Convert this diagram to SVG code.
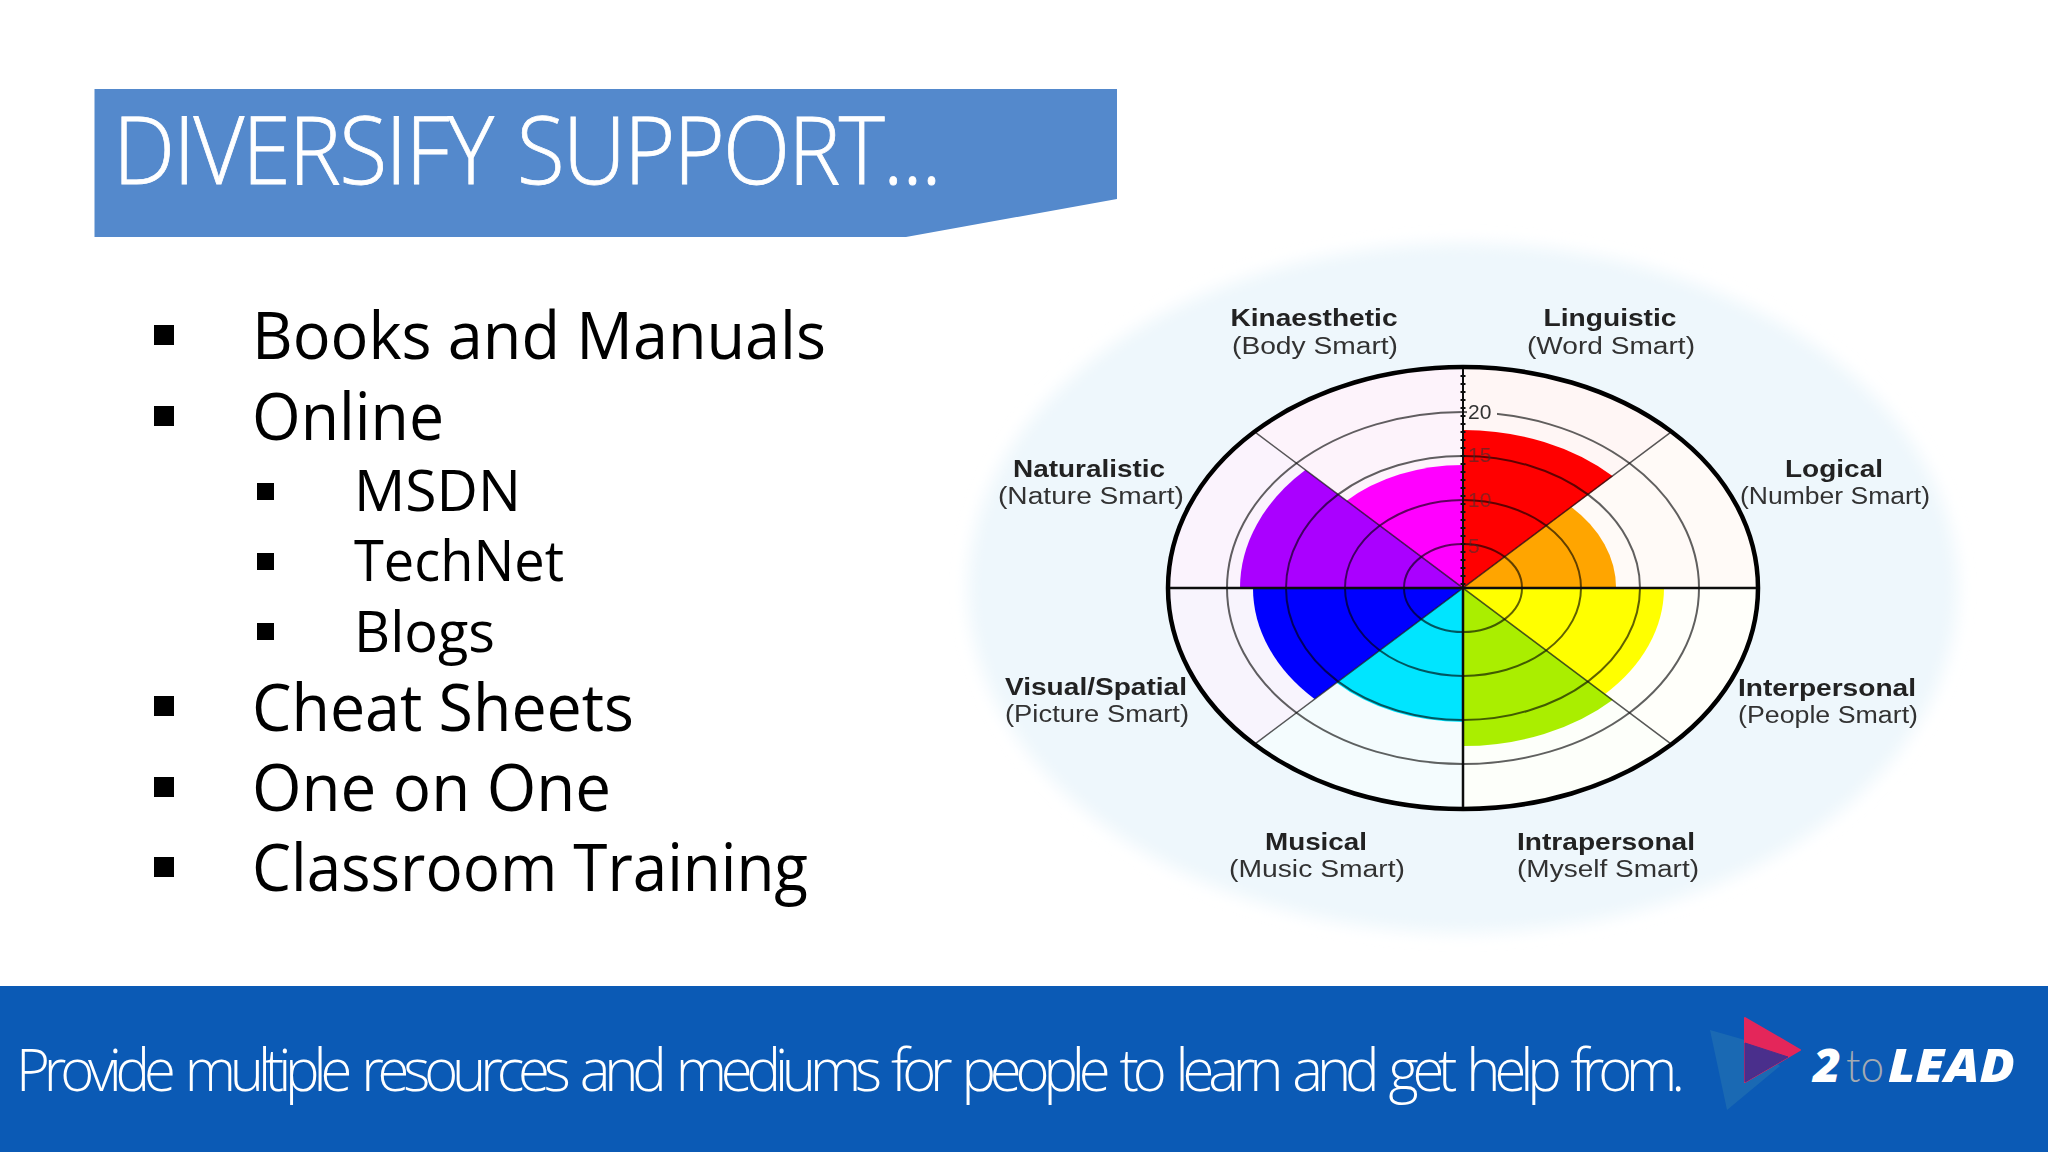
<svg xmlns="http://www.w3.org/2000/svg" width="2048" height="1152" viewBox="0 0 2048 1152">
<defs>
<style>
.l1{font-family:"Open Sans","Noto Sans",sans-serif;font-size:65px;fill:#000}
.l2{font-family:"Open Sans","Noto Sans",sans-serif;font-size:57px;fill:#000}
.b{font-family:"Liberation Sans",Arial,sans-serif;font-size:23px;font-weight:700;fill:#222;text-anchor:middle}
.r{font-family:"Liberation Sans",Arial,sans-serif;font-size:23px;fill:#333;text-anchor:middle}
.t{font-family:"Liberation Sans",Arial,sans-serif;font-size:21px;fill:#333}
.ring{fill:none;stroke:#000;stroke-width:2;stroke-opacity:.62}
</style>
<filter id="soft" x="-5%" y="-5%" width="110%" height="110%"><feGaussianBlur stdDeviation="0.6"/></filter>
<filter id="halo" x="-10%" y="-10%" width="120%" height="120%"><feGaussianBlur stdDeviation="8"/></filter>
</defs>
<rect width="2048" height="1152" fill="#ffffff"/>

<g id="title">
<polygon points="94.500,89 1117,89 1117,199 906,237 94.500,237" fill="#5489cc"/>
<text x="113" y="184" font-family="'Open Sans','Noto Sans',sans-serif" font-weight="300" font-size="94" fill="#fff" stroke="#fff" stroke-width="0.8" letter-spacing="-2" word-spacing="4" textLength="827" lengthAdjust="spacingAndGlyphs">DIVERSIFY SUPPORT...</text>
</g>

<g id="list">
<rect x="154" y="325" width="20" height="20"/>
<rect x="154" y="406" width="20" height="20"/>
<rect x="257" y="483" width="17" height="17"/>
<rect x="257" y="553" width="17" height="17"/>
<rect x="257" y="623" width="17" height="17"/>
<rect x="154" y="696" width="20" height="20"/>
<rect x="154" y="777" width="20" height="20"/>
<rect x="154" y="857" width="20" height="20"/>
<text class="l1" x="252" y="359" textLength="574" lengthAdjust="spacingAndGlyphs">Books and Manuals</text>
<text class="l1" x="252" y="440" textLength="192" lengthAdjust="spacingAndGlyphs">Online</text>
<text class="l2" x="354" y="511" textLength="167" lengthAdjust="spacingAndGlyphs">MSDN</text>
<text class="l2" x="354" y="581" textLength="210" lengthAdjust="spacingAndGlyphs">TechNet</text>
<text class="l2" x="354" y="652" textLength="141" lengthAdjust="spacingAndGlyphs">Blogs</text>
<text class="l1" x="252" y="731" textLength="382" lengthAdjust="spacingAndGlyphs">Cheat Sheets</text>
<text class="l1" x="252" y="811" textLength="359" lengthAdjust="spacingAndGlyphs">One on One</text>
<text class="l1" x="252" y="891" textLength="556" lengthAdjust="spacingAndGlyphs">Classroom Training</text>
</g>

<g id="wheel">
<ellipse cx="1463" cy="588" rx="495" ry="345" fill="#eef7fc" filter="url(#halo)"/>
<g filter="url(#soft)">
<g id="pale-sectors">
<path d="M1463 588V367A295 221 0 0 1 1671.600 431.700Z" fill="#fff6f5"/>
<path d="M1463 588L1671.600 431.700A295 221 0 0 1 1758 588Z" fill="#fffaf7"/>
<path d="M1463 588H1758A295 221 0 0 1 1671.600 744.300Z" fill="#fffffa"/>
<path d="M1463 588L1671.600 744.300A295 221 0 0 1 1463 809Z" fill="#fdfffa"/>
<path d="M1463 588V809A295 221 0 0 1 1254.400 744.300Z" fill="#f4fcfe"/>
<path d="M1463 588L1254.400 744.300A295 221 0 0 1 1168 588Z" fill="#f8f4fd"/>
<path d="M1463 588H1168A295 221 0 0 1 1254.400 431.700Z" fill="#fbf3fd"/>
<path d="M1463 588L1254.400 431.700A295 221 0 0 1 1463 367Z" fill="#fdf3fb"/>
</g>
<g id="sectors">
<path d="M1463 588V465A165 123 0 0 0 1346.300 501Z" fill="#ff00ff"/>
<path d="M1463 588H1240A223 167 0 0 1 1305.300 470Z" fill="#aa00ff"/>
<path d="M1463 588L1571.200 507A153 114 0 0 1 1616 588Z" fill="#ffa500"/>
<path d="M1463 588V430A212 158 0 0 1 1612.900 476.300Z" fill="#ff0000"/>
<path d="M1463 588H1664A201 150 0 0 1 1605.100 694Z" fill="#ffff00"/>
<path d="M1463 588L1612.900 699.700A212 158 0 0 1 1463 746Z" fill="#aaee00"/>
<path d="M1463 588V722A179 134 0 0 1 1336.400 682.800Z" fill="#00e5ff"/>
<path d="M1463 588L1314.500 699A210 157 0 0 1 1253 588Z" fill="#0000ff"/>
</g>
<g id="rings">
<ellipse class="ring" cx="1463" cy="588" rx="59" ry="44"/>
<ellipse class="ring" cx="1463" cy="588" rx="118" ry="88"/>
<ellipse class="ring" cx="1463" cy="588" rx="177" ry="132"/>
<ellipse class="ring" cx="1463" cy="588" rx="236" ry="176"/>
</g>
<g id="axes" fill="none" stroke="#111">
<path d="M1254.400 431.700 1671.600 744.300M1254.400 744.300 1671.600 431.700" stroke-width="1.500" stroke-opacity=".7"/>
<path d="M1168 588H1758M1463 588V809" stroke-width="2.500"/>
<path d="M1463 367V588" stroke-width="2"/>
<path d="M1463 367V588" stroke-width="5" stroke-dasharray="2 6"/>
</g>
<ellipse cx="1463" cy="588" rx="295" ry="221" fill="none" stroke="#000" stroke-width="4.500"/>
<rect x="1467" y="402" width="30" height="20" fill="#fff6f5"/>
<text class="t" x="1468" y="419">20</text>
<text class="t" x="1468" y="462" fill-opacity=".6">15</text>
<text class="t" x="1468" y="507" fill-opacity=".55">10</text>
<text class="t" x="1468" y="553" fill-opacity=".55">5</text>
<g id="labels">
<text class="b" x="1314" y="326" textLength="167" lengthAdjust="spacingAndGlyphs">Kinaesthetic</text>
<text class="r" x="1315" y="354" textLength="166" lengthAdjust="spacingAndGlyphs">(Body Smart)</text>
<text class="b" x="1610" y="326" textLength="133" lengthAdjust="spacingAndGlyphs">Linguistic</text>
<text class="r" x="1611" y="354" textLength="168" lengthAdjust="spacingAndGlyphs">(Word Smart)</text>
<text class="b" x="1089" y="477" textLength="152" lengthAdjust="spacingAndGlyphs">Naturalistic</text>
<text class="r" x="1091" y="504" textLength="186" lengthAdjust="spacingAndGlyphs">(Nature Smart)</text>
<text class="b" x="1834" y="477" textLength="98" lengthAdjust="spacingAndGlyphs">Logical</text>
<text class="r" x="1835" y="504" textLength="190" lengthAdjust="spacingAndGlyphs">(Number Smart)</text>
<text class="b" x="1096" y="695" textLength="182" lengthAdjust="spacingAndGlyphs">Visual/Spatial</text>
<text class="r" x="1097" y="722" textLength="184" lengthAdjust="spacingAndGlyphs">(Picture Smart)</text>
<text class="b" x="1827" y="696" textLength="178" lengthAdjust="spacingAndGlyphs">Interpersonal</text>
<text class="r" x="1828" y="723" textLength="180" lengthAdjust="spacingAndGlyphs">(People Smart)</text>
<text class="b" x="1316" y="850" textLength="102" lengthAdjust="spacingAndGlyphs">Musical</text>
<text class="r" x="1317" y="877" textLength="176" lengthAdjust="spacingAndGlyphs">(Music Smart)</text>
<text class="b" x="1606" y="850" textLength="178" lengthAdjust="spacingAndGlyphs">Intrapersonal</text>
<text class="r" x="1608" y="877" textLength="182" lengthAdjust="spacingAndGlyphs">(Myself Smart)</text>
</g>
</g>
</g>

<g id="footer">
<rect x="0" y="986" width="2048" height="166" fill="#0b5ab5"/>
<text x="16" y="1091" font-family="'Open Sans','Noto Sans',sans-serif" font-weight="300" font-size="58" fill="#fff" word-spacing="6" textLength="1669" lengthAdjust="spacing">Provide multiple resources and mediums for people to learn and get help from.</text>
</g>

<g id="logo">
<polygon points="1710,1030 1745,1040 1780,1066 1727,1110" fill="#1a69b3"/>
<polygon points="1745,1018 1800,1050 1745,1082" fill="#e4265a" stroke="#e4265a" stroke-width="2" stroke-linejoin="round"/>
<polygon points="1745,1043 1788,1057 1745,1082" fill="#4a2f8c" stroke="#4a2f8c" stroke-width="1" stroke-linejoin="round"/>
<text x="1813" y="1082" font-family="'Open Sans','Noto Sans',sans-serif" font-weight="800" font-style="italic" font-size="46" fill="#fff" textLength="28" lengthAdjust="spacingAndGlyphs">2</text>
<text x="1846" y="1082" font-family="Lato,'Open Sans',sans-serif" font-weight="300" font-size="46" fill="#a4aab2" textLength="38" lengthAdjust="spacingAndGlyphs">to</text>
<text x="1888" y="1082" font-family="'Open Sans','Noto Sans',sans-serif" font-weight="800" font-style="italic" font-size="46" fill="#fff" textLength="127" lengthAdjust="spacingAndGlyphs">LEAD</text>
</g>
</svg>
